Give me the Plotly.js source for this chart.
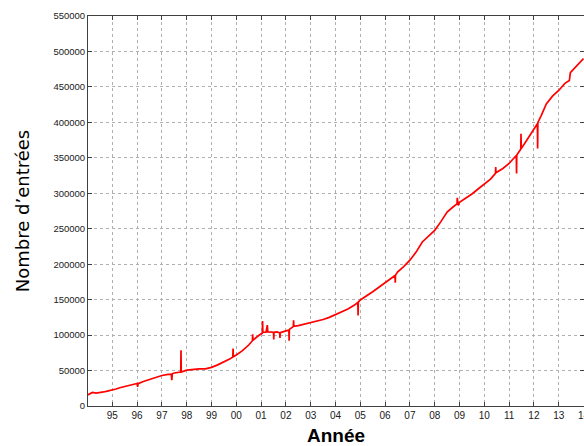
<!DOCTYPE html>
<html>
<head>
<meta charset="utf-8">
<script src="https://cdn.plot.ly/plotly-3.0.1.min.js"></script>
<style>html,body{margin:0;padding:0;background:#fff;overflow:hidden}</style>
</head>
<body>
<div id="chart" style="width:584px;height:446px"></div>
<script>
// Decimal years and number of entries (spikes included)
const years = [
  1994.00,1994.10,1994.20,1994.35,1994.50,1994.65,1994.80,1995.00,1995.15,1995.30,
  1995.50,1995.65,1995.80,1996.00,1996.02,1996.04,1996.25,1996.50,1996.75,1997.00,
  1997.25,1997.38,1997.40,1997.42,1997.50,1997.65,1997.76,1997.77,1997.78,1998.00,
  1998.25,1998.50,1998.75,1999.00,1999.25,1999.50,1999.75,1999.86,1999.87,1999.88,
  2000.00,2000.25,2000.50,2000.65,2000.66,2000.67,2000.85,2001.00,2001.05,2001.06,
  2001.07,2001.20,2001.25,2001.27,2001.40,2001.50,2001.51,2001.52,2001.65,2001.75,
  2001.76,2001.77,2002.00,2002.12,2002.13,2002.14,2002.30,2002.31,2002.32,2002.50,
  2002.75,2003.00,2003.25,2003.50,2003.75,2004.00,2004.25,2004.50,2004.75,2004.90,
  2004.91,2004.92,2005.00,2005.25,2005.50,2005.75,2006.00,2006.25,2006.40,2006.41,
  2006.42,2006.50,2006.75,2007.00,2007.25,2007.50,2007.75,2008.00,2008.25,2008.50,
  2008.75,2008.90,2008.91,2008.95,2009.00,2009.25,2009.50,2009.75,2010.00,2010.25,
  2010.45,2010.46,2010.47,2010.75,2011.00,2011.15,2011.29,2011.30,2011.31,2011.47,
  2011.48,2011.49,2011.75,2012.00,2012.14,2012.15,2012.16,2012.30,2012.50,2012.75,
  2013.00,2013.25,2013.43,2013.47,2013.70,2013.85,2013.97,2014.00
];
const entries = [
  15500,17500,19200,18300,18700,19800,21000,22400,24000,25700,
  27500,28500,30400,31800,27000,31500,34500,37400,40000,43000,
  44500,45000,36400,45500,46500,47500,47800,78500,48000,50500,
  51800,52300,52300,54500,58000,62000,66500,69000,81000,69500,
  72000,78000,86000,92000,101000,92500,98000,102400,103000,120000,
  104000,104000,114000,104500,104000,104000,94000,104000,104500,103000,
  96000,103500,106000,107000,92000,108000,112000,121000,112500,113300,
  115500,117600,119500,122000,125000,128600,132000,136700,142000,146000,
  127600,146500,149500,155000,161200,167500,173800,181000,184000,174000,
  184500,189000,196500,205600,217000,231300,240000,247700,260000,273400,
  281000,285000,293500,283000,287400,293000,299000,306000,313000,320000,
  328000,337000,329000,335000,342000,348000,353000,328000,354000,362000,
  384000,363000,377000,391000,398000,363000,400000,410000,426000,437000,
  445000,455000,459000,470000,479000,484000,488000,490000
];
const tickYears = [1995,1996,1997,1998,1999,2000,2001,2002,2003,2004,2005,2006,2007,2008,2009,2010,2011,2012,2013,2014];
const tickLabels = ["95","96","97","98","99","00","01","02","03","04","05","06","07","08","09","10","11","12","13","14"];
const yTicks = [0,50000,100000,150000,200000,250000,300000,350000,400000,450000,500000,550000];

const trace = {
  x: years, y: entries, type: 'scatter', mode: 'lines',
  line: {color: '#ff0000', width: 1.7},
  hoverinfo: 'skip', showlegend: false
};

const layout = {
  width: 584, height: 446,
  margin: {l: 88, r: 0, t: 16, b: 40},
  paper_bgcolor: '#ffffff', plot_bgcolor: '#ffffff',
  showlegend: false,
  xaxis: {
    range: [1994.02, 2014.02],
    tickmode: 'array', tickvals: tickYears, ticktext: tickLabels,
    ticklabeloverflow: 'allow',
    showgrid: true, gridcolor: '#b0b0b0', griddash: 'dot', gridwidth: 1,
    zeroline: false,
    showline: true, linecolor: '#404040', linewidth: 1, mirror: 'ticks',
    ticks: 'inside', ticklen: 4, tickcolor: '#404040',
    tickfont: {family: 'Liberation Sans, Arial, sans-serif', size: 10, color: '#202020'},
    title: {text: 'Année', font: {family: 'Liberation Sans, Arial, sans-serif', size: 19, color: '#000', weight: 'bold'}, standoff: 11}
  },
  yaxis: {
    range: [0, 550000],
    tickmode: 'array', tickvals: yTicks, tickformat: 'd',
    showgrid: true, gridcolor: '#b0b0b0', griddash: 'dot', gridwidth: 1,
    zeroline: false,
    showline: true, linecolor: '#404040', linewidth: 1, mirror: 'ticks',
    ticks: 'inside', ticklen: 4, tickcolor: '#404040',
    tickfont: {family: 'Liberation Sans, Arial, sans-serif', size: 9.5, color: '#202020'},
    title: {text: 'Nombre d’entrées', font: {family: 'DejaVu Sans, sans-serif', size: 18, color: '#000'}, standoff: 19}
  }
};

Plotly.newPlot('chart', [trace], layout, {staticPlot: true, displayModeBar: false});
</script>
</body>
</html>
